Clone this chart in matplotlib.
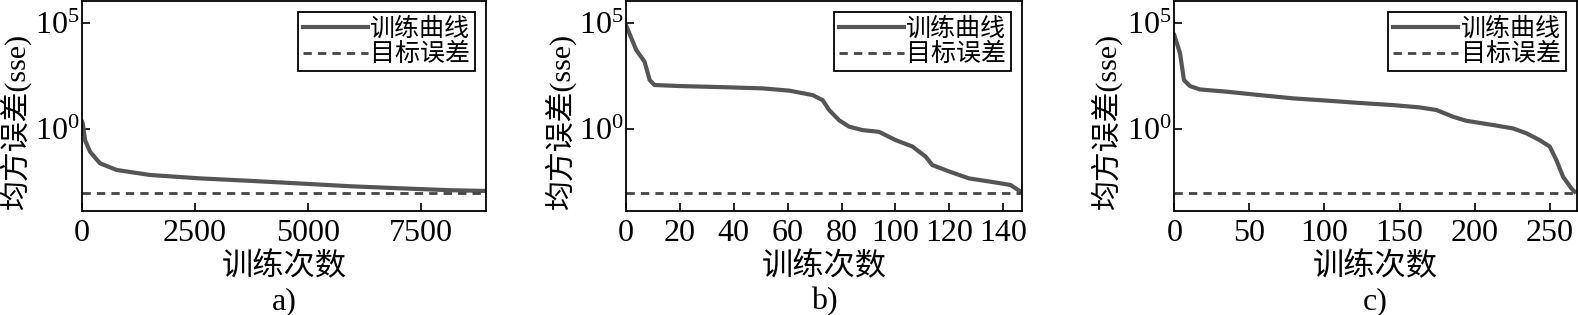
import matplotlib
matplotlib.use('Agg')
import matplotlib.pyplot as plt
from matplotlib.ticker import FixedLocator, LogFormatterMathtext, NullLocator

plt.rcParams['font.family'] = ['Liberation Serif', 'Noto Sans CJK SC']
plt.rcParams['mathtext.fontset'] = 'stix'

GOAL = 1e-3

# training curves (iteration, sse)
A_X = [0, 15, 66, 177, 398, 767, 1504, 2610, 3717, 4823, 5929, 7035, 8142, 8930]
A_Y = [2.2, 1.86, 0.30, 0.085, 0.024, 0.0117, 0.0068, 0.0047, 0.0036, 0.0027,
       0.0020, 0.0016, 0.0013, 0.0012]

B_X = [0, 3.8, 6.9, 8.8, 10.6, 19.9, 38.4, 50.7, 60.6, 69.3, 73, 75.4, 79.1,
       82.8, 87.8, 93.9, 100.1, 106.3, 111.2, 113.7, 119.9, 127.3, 137.2, 142.7, 146.5]
B_Y = [8e4, 5.4e3, 1.5e3, 204, 120, 107, 93, 83, 65, 40, 23, 7.9, 2.6,
       1.3, 0.89, 0.74, 0.30, 0.15, 0.05, 0.02, 0.01, 0.0047, 0.0030, 0.0023, 0.0011]

C_X = [0, 3.8, 6.4, 10.4, 17, 34.8, 57, 79.2, 101.4, 123.6, 145.7, 163.5, 174.6,
       185.7, 194.5, 212.3, 225.6, 234.5, 243.3, 250, 254.4, 258.9, 264.4, 266.6]
C_Y = [2.7e4, 3.7e3, 204, 107, 74, 58, 40, 28, 22, 17, 13.5, 10.5, 7.9,
       3.8, 2.45, 1.55, 1.07, 0.63, 0.30, 0.15, 0.035, 0.0056, 0.0016, 0.0011]

XLIMS = [8940, 147, 268]
XTICKS = [[0, 2500, 5000, 7500], [0, 20, 40, 60, 80, 100, 120, 140],
          [0, 50, 100, 150, 200, 250]]
LABELS = ['a)', 'b)', 'c)']

fig = plt.figure(figsize=(15.78, 3.15), dpi=100)
boxes = [[0.052, 0.330, 0.256, 0.668],
         [0.3967, 0.330, 0.251, 0.668],
         [0.7442, 0.330, 0.255, 0.668]]
ylab_x = [-0.166, -0.166, -0.170]

data = [(A_X, A_Y), (B_X, B_Y), (C_X, C_Y)]
for i, (xs, ys) in enumerate(data):
    ax = fig.add_axes(boxes[i])
    ax.plot(xs, ys, color='#555555', lw=3, label='训练曲线', solid_joinstyle='round')
    ax.axhline(GOAL, color='#444444', lw=2, ls=(0, (3, 2.2)), label='目标误差')
    ax.set_yscale('log')
    ax.set_ylim(1.35e-4, 1.15e6)
    ax.set_xlim(0, XLIMS[i])
    ax.yaxis.set_major_locator(FixedLocator([1, 1e5]))
    ax.yaxis.set_major_formatter(LogFormatterMathtext())
    ax.yaxis.set_minor_locator(NullLocator())
    ax.set_xticks(XTICKS[i])
    ax.tick_params(direction='in', length=6, width=1.2, labelsize=23, pad=6)
    ax.tick_params(axis='y', pad=2)
    for s in ax.spines.values():
        s.set_linewidth(1.3)
    ax.set_xlabel('训练次数', fontsize=22.5, labelpad=3)
    ax.set_ylabel('均方误差(sse)', fontsize=21.5, va='center')
    ax.yaxis.set_label_coords(ylab_x[i], 0.43)
    leg = ax.legend(loc='upper right', bbox_to_anchor=(0.973, 0.945), borderaxespad=0,
                    fontsize=18, handlelength=2.6, handletextpad=0.1,
                    labelspacing=0.1, borderpad=0.2, fancybox=False, framealpha=1)
    leg.get_frame().set_edgecolor('black')
    leg.get_frame().set_linewidth(1.3)
    ax.text(0.5, -0.43, LABELS[i], transform=ax.transAxes, ha='center', va='center',
            fontsize=23)

fig.savefig('out.png', dpi=100)
